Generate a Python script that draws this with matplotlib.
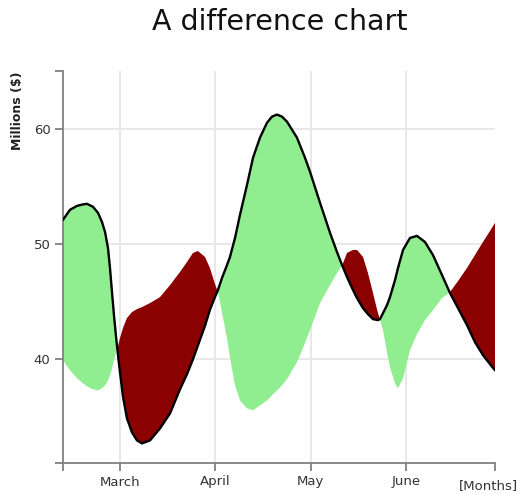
"""
Difference chart: green where the black series is above, dark red where below.
"""
import matplotlib.pyplot as plt

# month position (3 = March, 4 = April ...)
months = [2.402, 2.475, 2.549, 2.612, 2.654, 2.717, 2.769, 2.811, 2.843, 2.874,
          2.895, 2.916, 2.937, 2.958, 2.979, 3.000, 3.031, 3.073, 3.126, 3.178,
          3.231, 3.315, 3.420, 3.525, 3.630, 3.703, 3.766, 3.818, 3.892, 3.944,
          3.997, 4.028, 4.070, 4.123, 4.154, 4.207, 4.259, 4.333, 4.396, 4.469,
          4.543, 4.595, 4.647, 4.700, 4.752, 4.857, 4.941, 4.994, 5.099, 5.204,
          5.277, 5.330, 5.382, 5.445, 5.487, 5.550, 5.602, 5.655, 5.707, 5.728,
          5.760, 5.802, 5.833, 5.886, 5.917, 5.970, 6.043, 6.116, 6.200, 6.284,
          6.379, 6.463, 6.547, 6.641, 6.725, 6.809, 6.883, 6.935]

# series drawn with the black line
series_a = [52.09, 52.96, 53.30, 53.43, 53.48, 53.22, 52.70, 51.91, 51.04, 49.65,
            47.91, 45.83, 43.80, 42.00, 40.35, 38.87, 36.78, 34.87, 33.65, 32.96,
            32.70, 32.96, 34.00, 35.30, 37.40, 38.70, 40.00, 41.20, 42.90, 44.30,
            45.40, 46.00, 47.04, 48.17, 48.87, 50.52, 52.52, 55.13, 57.48, 59.22,
            60.52, 61.04, 61.22, 61.04, 60.61, 59.22, 57.48, 56.26, 53.57, 50.96,
            49.30, 48.17, 47.13, 46.00, 45.30, 44.43, 43.91, 43.48, 43.39, 43.48,
            44.00, 44.70, 45.39, 46.87, 47.91, 49.48, 50.52, 50.70, 50.17, 49.04,
            47.30, 45.74, 44.43, 42.96, 41.48, 40.35, 39.57, 39.04]

# other series (only visible as the edge of the fills)
series_b = [39.91, 39.04, 38.35, 37.91, 37.65, 37.39, 37.30, 37.48, 37.74, 38.17,
            38.61, 39.22, 39.91, 40.61, 41.13, 41.83, 42.70, 43.57, 44.09, 44.35,
            44.52, 44.87, 45.39, 46.43, 47.57, 48.43, 49.22, 49.39, 48.87, 47.91,
            46.52, 45.83, 44.09, 41.83, 40.17, 37.74, 36.43, 35.74, 35.57, 36.00,
            36.43, 36.87, 37.30, 37.74, 38.26, 39.74, 41.39, 42.52, 44.87, 46.43,
            47.48, 48.10, 49.22, 49.48, 49.48, 48.87, 47.48, 45.74, 44.00, 43.45,
            42.52, 40.61, 39.30, 37.91, 37.48, 38.35, 40.78, 42.17, 43.39, 44.26,
            45.30, 45.83, 46.78, 47.91, 49.04, 50.17, 51.13, 51.83]

month_ticks = [3, 4, 5, 6]
month_labels = ['March', 'April', 'May', 'June']
value_ticks = [40, 50, 60]

fig = plt.figure(figsize=(5.22, 4.95), dpi=100)
fig.patch.set_facecolor('white')
ax = fig.add_axes([63 / 522, 32 / 495, 432 / 522, 392 / 495])

ax.set_xlim(2.402, 6.935)
ax.set_ylim(31, 65)

# grid, drawn by hand so no line sits on the right border
grid_c = '#e6e6e6'
for m in month_ticks:
    ax.axvline(m, color=grid_c, lw=1.3, zorder=0)
for v in value_ticks:
    ax.axhline(v, color=grid_c, lw=1.3, zorder=0)

a_above = [a >= b for a, b in zip(series_a, series_b)]
a_below = [a < b for a, b in zip(series_a, series_b)]
ax.fill_between(months, series_a, series_b, where=a_above, interpolate=True,
                color='#90ee90', lw=0, zorder=2)
ax.fill_between(months, series_a, series_b, where=a_below, interpolate=True,
                color='#8b0000', lw=0, zorder=2)
ax.plot(months, series_a, color='black', lw=1.7, zorder=3,
        solid_capstyle='round', solid_joinstyle='round')

# axes
for s in ['top', 'right']:
    ax.spines[s].set_visible(False)
for s in ['left', 'bottom']:
    ax.spines[s].set_color('#808080')
    ax.spines[s].set_linewidth(1.3)

ax.set_xticks(month_ticks)
ax.set_xticklabels(month_labels)
ax.set_xticks([2.402, 6.935], minor=True)
ax.set_yticks(value_ticks)
ax.set_yticklabels([str(v) for v in value_ticks])
ax.set_yticks([31, 65], minor=True)
ax.tick_params(which='both', length=6, width=1.3, color='#808080',
               labelsize=9.5, labelcolor='#333333', pad=3)

ax.text(0.984, -0.0587, '[Months]', transform=ax.transAxes, ha='center',
        va='center', fontsize=9.5, color='#333333', clip_on=False)

fig.text(18 / 522, 1 - 71 / 495, 'Millions ($)', rotation=90, ha='center',
         va='top', fontsize=9, color='#222222', fontweight='semibold')
fig.text(280 / 522, 1 - 22 / 495, 'A difference chart', ha='center',
         va='center', fontsize=20.5, color='#111111')

fig.savefig('out.png', dpi=100, facecolor='white')
